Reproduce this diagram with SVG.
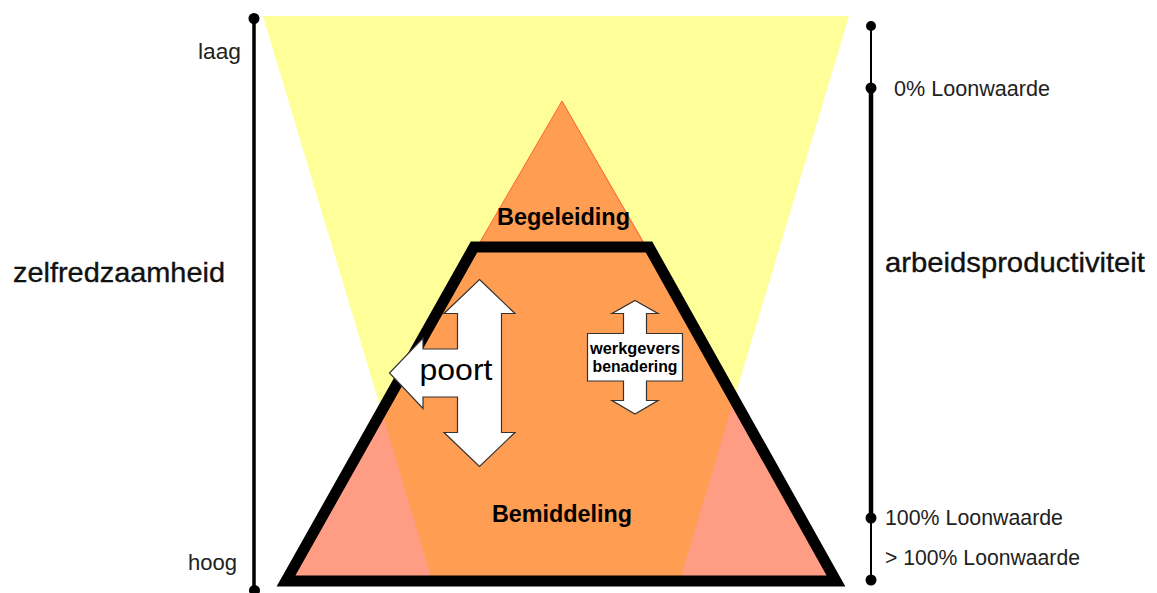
<svg xmlns="http://www.w3.org/2000/svg" width="1157" height="593" viewBox="0 0 1157 593">
  <style>
    .lbl { font-family: "Liberation Sans", Arial, sans-serif; fill: #222; }
    .small { font-size: 21.5px; }
    .big { font-size: 28px; fill: #111; stroke: #111; stroke-width: 0.35; }
    .zone { font-family: "Liberation Sans", Arial, sans-serif; font-size: 23.5px; font-weight: bold; fill: #000; }
    .arrow { fill: #fff; stroke: #333; stroke-width: 1.2; stroke-linejoin: miter; }
    .axis { stroke: #000; fill: none; }
    .dot { fill: #000; }
  </style>

  <rect width="1157" height="593" fill="#fff"/>

  <!-- yellow funnel: self-reliance band -->
  <g id="funnel">
    <polygon points="263,16 849,16 679,583 433,583" fill="#FFFF99"/>
  </g>

  <!-- pyramid: full triangle, funnel overlap, frame -->
  <g id="pyramid">
    <polygon points="562,101 842,583 282,583" fill="#FF9C84"/>
    <polygon points="562,101 734.3,398.2 679,583 433,583 381.7,411.8" fill="#FF9D52"/>
    <polyline points="480,242 562,101 643,242" fill="none" stroke="#FF6633" stroke-width="1"/>
    <polygon points="474,247 649,247 836,581 286,581" fill="none" stroke="#000" stroke-width="11" stroke-linejoin="miter"/>
  </g>

  <g id="begeleiding">
    <text class="zone" x="563.5" y="225" text-anchor="middle" textLength="133" lengthAdjust="spacingAndGlyphs">Begeleiding</text>
  </g>
  <g id="bemiddeling">
    <text class="zone" x="562" y="522" text-anchor="middle" textLength="140" lengthAdjust="spacingAndGlyphs">Bemiddeling</text>
  </g>

  <!-- entry arrow: up/down with exit to the left -->
  <g id="poort">
    <polygon class="arrow" points="479.5,279.5 515,313.5 501.5,313.5 501.5,432.5 515,432.5 479.5,466.5 444,432.5 457.5,432.5 457.5,397 423,397 423,408.5 389.5,373 423,338 423,349 457.5,349 457.5,313.5 444,313.5"/>
    <text x="456" y="380" text-anchor="middle" font-family="Liberation Sans, Arial, sans-serif" font-size="30" fill="#000" textLength="73" lengthAdjust="spacingAndGlyphs">poort</text>
  </g>

  <!-- employer approach: double arrow with label box -->
  <g id="werkgeversbenadering">
    <polygon class="arrow" points="635,300.5 658,313.5 646.5,313.5 646.5,333.5 682.5,333.5 682.5,381 646.5,381 646.5,400.5 658,400.5 635,414 612,400.5 623.5,400.5 623.5,381 587.5,381 587.5,333.5 623.5,333.5 623.5,313.5 612,313.5"/>
    <text x="635" y="353.5" text-anchor="middle" font-family="Liberation Sans, Arial, sans-serif" font-size="16" font-weight="bold" fill="#000" textLength="90" lengthAdjust="spacingAndGlyphs">werkgevers</text>
    <text x="635" y="372" text-anchor="middle" font-family="Liberation Sans, Arial, sans-serif" font-size="16" font-weight="bold" fill="#000" textLength="85" lengthAdjust="spacingAndGlyphs">benadering</text>
  </g>

  <!-- left scale: zelfredzaamheid -->
  <g id="scale-zelfredzaamheid">
    <line class="axis" x1="254" y1="18" x2="254" y2="590" stroke-width="3.5"/>
    <circle class="dot" cx="254" cy="18.5" r="5.5"/>
    <circle class="dot" cx="254.5" cy="590.5" r="5.5"/>
    <text class="lbl small" x="198" y="59" textLength="43" lengthAdjust="spacingAndGlyphs">laag</text>
    <text class="lbl small" x="188" y="570" textLength="49" lengthAdjust="spacingAndGlyphs">hoog</text>
    <text class="lbl big" x="13" y="282" textLength="212" lengthAdjust="spacingAndGlyphs">zelfredzaamheid</text>
  </g>

  <!-- right scale: arbeidsproductiviteit -->
  <g id="scale-arbeidsproductiviteit">
    <line class="axis" x1="871" y1="26" x2="871" y2="88" stroke-width="2"/>
    <line class="axis" x1="871" y1="88" x2="871" y2="518" stroke-width="4.5"/>
    <line class="axis" x1="871" y1="518" x2="871" y2="580" stroke-width="2"/>
    <circle class="dot" cx="871" cy="26" r="5"/>
    <circle class="dot" cx="871" cy="88" r="5.5"/>
    <circle class="dot" cx="871" cy="518" r="5.5"/>
    <circle class="dot" cx="871" cy="580" r="5.5"/>
    <text class="lbl small" x="894" y="96" textLength="156" lengthAdjust="spacingAndGlyphs">0% Loonwaarde</text>
    <text class="lbl small" x="885" y="525" textLength="178" lengthAdjust="spacingAndGlyphs">100% Loonwaarde</text>
    <text class="lbl small" x="885" y="565" textLength="195" lengthAdjust="spacingAndGlyphs">&gt; 100% Loonwaarde</text>
    <text class="lbl big" x="885" y="272" textLength="260" lengthAdjust="spacingAndGlyphs">arbeidsproductiviteit</text>
  </g>
</svg>
